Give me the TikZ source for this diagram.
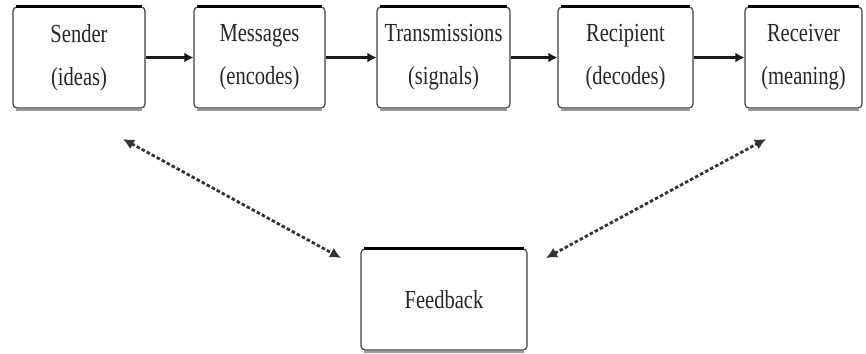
\documentclass[tikz,border=0pt]{standalone}
\usepackage{fontspec}
\setmainfont{Liberation Serif}
\usetikzlibrary{arrows.meta}

% condensed label text
\newcommand{\narrow}[1]{\scalebox{0.79}[1]{#1}}

\tikzset{
  stage/.style={draw=black!75, line width=1.2pt, rounded corners=4pt, fill=white,
    minimum height=101pt, inner sep=0pt, text=black!85,
    font=\fontsize{26pt}{43pt}\selectfont, align=center},
  flow/.style={line width=3pt, black!90, -{Latex[length=9pt,width=10pt]}},
  loop/.style={line width=2.8pt, black!80, dash pattern=on 3.5pt off 2.2pt,
    {Latex[length=11pt,width=11pt]}-{Latex[length=11pt,width=11pt]}},
  topedge/.style={line width=3pt, black},
  shadowedge/.style={line width=2.5pt, black!40},
}

\begin{document}
\begin{tikzpicture}[x=1pt, y=-1pt]
  \useasboundingbox (0,0) rectangle (866,353);

  % top row of stages
  \node[stage, minimum width=132pt] (sender)   at (79,57.5)    {\narrow{Sender}\\\narrow{(ideas)}};
  \node[stage, minimum width=131pt] (messages) at (259.5,57.5) {\narrow{Messages}\\\narrow{(encodes)}};
  \node[stage, minimum width=133pt] (trans)    at (443.5,57.5) {\narrow{Transmissions}\\\narrow{(signals)}};
  \node[stage, minimum width=135pt] (recip)    at (625.5,57.5) {\narrow{Recipient}\\\narrow{(decodes)}};
  \node[stage, minimum width=117pt] (receiver) at (803.5,57.5) {\narrow{Receiver}\\\narrow{(meaning)}};

  % feedback stage
  \node[stage, minimum width=166pt] (feedback) at (444,299.5) {\narrow{Feedback}};

  % heavy top edge and soft bottom shadow on every box
  \foreach \n in {sender,messages,trans,recip,receiver,feedback}{
    \draw[topedge] ([xshift=4pt]\n.north west) -- ([xshift=-4pt]\n.north east);
    \draw[shadowedge] ([xshift=4pt,yshift=-1.5pt]\n.south west) -- ([xshift=-4pt,yshift=-1.5pt]\n.south east);
  }

  % forward flow
  \draw[flow] (sender)   -- (messages);
  \draw[flow] (messages) -- (trans);
  \draw[flow] (trans)    -- (recip);
  \draw[flow] (recip)    -- (receiver);

  % feedback loop ends
  \coordinate (sendback) at (123,139);
  \coordinate (fbleft)   at (341,258);
  \coordinate (fbright)  at (546,258);
  \coordinate (recback)  at (766,139);

  \draw[loop] (sendback) -- (fbleft);
  \draw[loop] (fbright)  -- (recback);
\end{tikzpicture}
\end{document}
